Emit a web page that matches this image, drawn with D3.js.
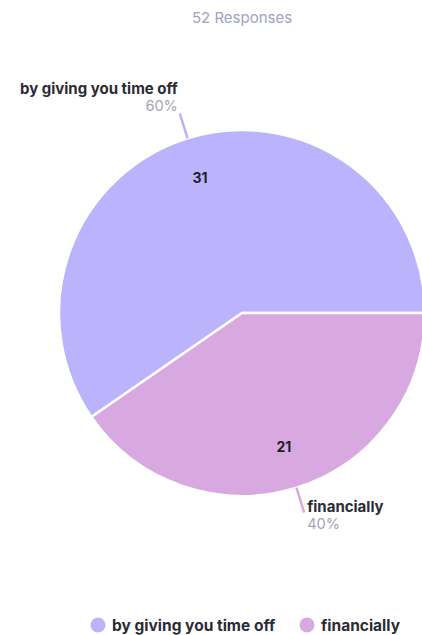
<!DOCTYPE html>
<html><head><meta charset="utf-8">
<script src="https://cdn.jsdelivr.net/npm/d3@7"></script>
<style>body{margin:0;background:#fff;overflow:hidden}svg{display:block}</style>
</head><body>
<svg id="c" width="422" height="635"></svg>
<script>
const categories = ["by giving you time off", "financially"];
const values = [31, 21];
const percents = ["60%", "40%"];
const title = "52 Responses";
const colors = ["#bcb3fd", "#d7a9e0"];

const svg = d3.select("#c");
const cx = 242, cy = 313, r = 183;
const font = "Inter, 'Open Sans', sans-serif";

svg.append("text").attr("x", 242).attr("y", 23).attr("text-anchor", "middle")
  .attr("font-family", font).attr("font-size", 15).attr("fill", "#9ea3c2").text(title);

const pie = d3.pie().sort(null).value(d => d)
  .startAngle(Math.PI / 2).endAngle(Math.PI / 2 - 2 * Math.PI);
const arcs = pie(values);
const arc = d3.arc().innerRadius(0).outerRadius(r);
const g = svg.append("g").attr("transform", `translate(${cx},${cy})`);
g.selectAll("path").data(arcs).join("path")
  .attr("d", arc).attr("fill", (d, i) => colors[i])
  .attr("stroke", "#fff").attr("stroke-width", 2.5).attr("stroke-linejoin", "round");

const inner = d3.arc().innerRadius(r * 0.77).outerRadius(r * 0.77);
g.selectAll("text.v").data(arcs).join("text").attr("class", "v")
  .attr("transform", d => `translate(${inner.centroid(d)})`)
  .attr("text-anchor", "middle").attr("dy", "0.35em")
  .attr("font-family", font).attr("font-weight", 700).attr("font-size", 14)
  .attr("fill", "#1f1f2a").text(d => d.value);

const p0 = d3.arc().innerRadius(r).outerRadius(r);
const p1 = d3.arc().innerRadius(r + 26).outerRadius(r + 26);
arcs.forEach((d, i) => {
  const a = p0.centroid(d), b = p1.centroid(d);
  g.append("line").attr("x1", a[0]).attr("y1", a[1]).attr("x2", b[0]).attr("y2", b[1])
    .attr("stroke", colors[i]).attr("stroke-width", 2.5);
  const top = b[1] < 0;
  const anchor = top ? "end" : "start";
  const tx = top ? b[0] - 2 : b[0] + 3;
  const y1 = top ? b[1] - 19 : b[1] - 1;
  g.append("text").attr("x", tx).attr("y", y1).attr("text-anchor", anchor)
    .attr("font-family", font).attr("font-weight", 700).attr("font-size", 15)
    .attr("fill", "#2b2b36").text(categories[i]);
  g.append("text").attr("x", tx).attr("y", y1 + 17).attr("text-anchor", anchor)
    .attr("font-family", font).attr("font-size", 14.5)
    .attr("fill", "#a2a4b8").text(percents[i]);
});

const legendX = [98, 307];
const lg = svg.append("g");
categories.forEach((c, i) => {
  lg.append("circle").attr("cx", legendX[i]).attr("cy", 625).attr("r", 7.5).attr("fill", colors[i]);
  lg.append("text").attr("x", legendX[i] + 14).attr("y", 630.5)
    .attr("font-family", font).attr("font-weight", 700).attr("font-size", 15.5)
    .attr("fill", "#2b2b36").text(c);
});
</script>
</body></html>
